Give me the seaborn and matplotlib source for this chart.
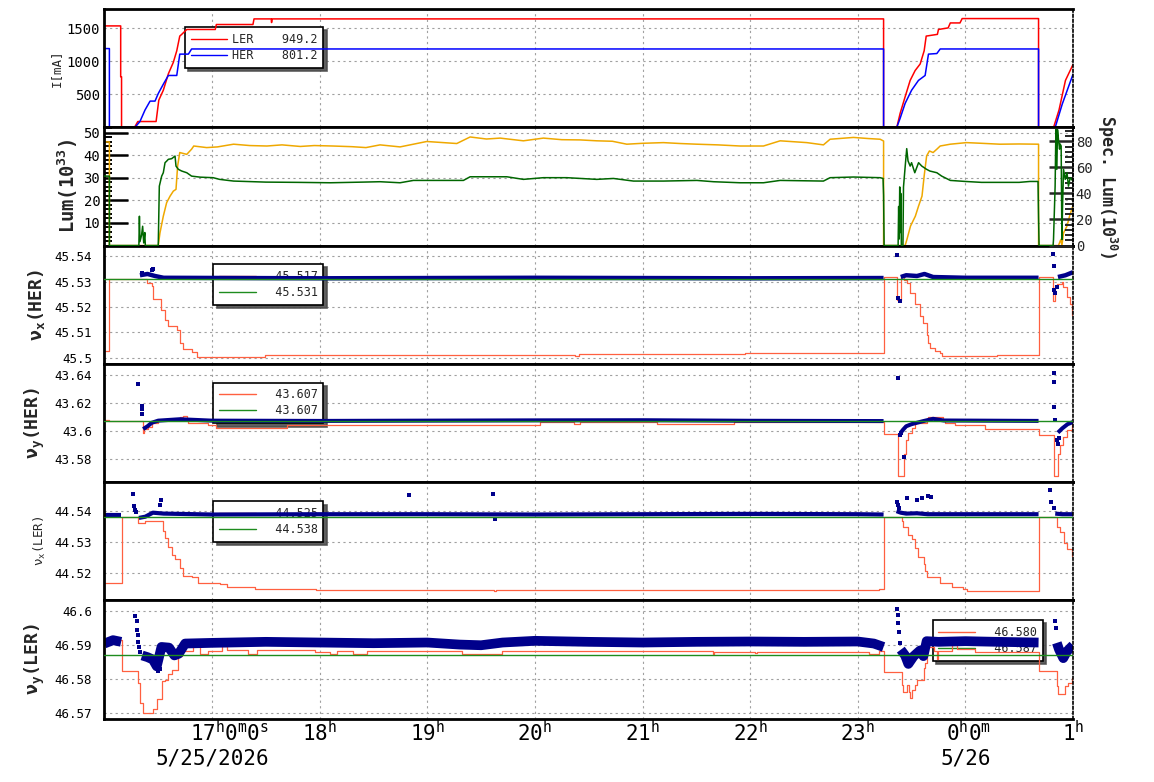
import matplotlib
matplotlib.use("Agg")
import matplotlib.pyplot as plt
from matplotlib.lines import Line2D
from matplotlib.ticker import MultipleLocator
import seaborn as sns

# time axis: hours on 5/25 (24 = 0h of 5/26)
hour_ticks = [17, 18, 19, 20, 21, 22, 23, 24, 25]
hour_labels = ["17$^{\\mathregular{h}}$0$^{\\mathregular{m}}$0$^{\\mathregular{s}}$\n5/25/2026",
               "18$^{\\mathregular{h}}$", "19$^{\\mathregular{h}}$", "20$^{\\mathregular{h}}$",
               "21$^{\\mathregular{h}}$", "22$^{\\mathregular{h}}$", "23$^{\\mathregular{h}}$",
               "0$^{\\mathregular{h}}$0$^{\\mathregular{m}}$\n5/26", "1$^{\\mathregular{h}}$"]

# ---- beam currents [mA]
ler_t = [16.0, 16.151, 16.151, 16.159, 16.159, 16.28, 16.31, 16.48, 16.505, 16.547, 16.594, 16.64,
         16.672, 16.70, 16.718, 16.765, 17.03, 17.04, 17.38, 17.39, 17.55, 17.553, 17.558, 23.24,
         23.24, 23.363, 23.394, 23.44, 23.487, 23.533, 23.58, 23.617, 23.636, 23.74, 23.75, 23.84,
         23.86, 23.95, 23.97, 24.68, 24.68, 24.82, 24.87, 24.93, 25.0]
ler_i = [1534, 1534, 764, 764, 0, 0, 87, 87, 410, 560, 809, 982,
         1157, 1380, 1406, 1480, 1480, 1555, 1555, 1640, 1640, 1585, 1640, 1640,
         0, 0, 212, 460, 709, 858, 958, 1157, 1380, 1406, 1480, 1504,
         1579, 1579, 1645, 1645, 0, 0, 260, 709, 949.2]
her_t = [16.0, 16.046, 16.046, 16.284, 16.33, 16.377, 16.424, 16.47, 16.50, 16.55, 16.594, 16.672,
         16.70, 16.78, 16.81, 23.24, 23.24, 23.363, 23.394, 23.44, 23.50, 23.564, 23.626, 23.657,
         23.735, 23.766, 24.68, 24.68, 24.835, 24.90, 25.0]
her_i = [1191, 1191, 0, 0, 87, 261, 396, 396, 510, 660, 784, 784,
         1107, 1107, 1185, 1185, 0, 0, 137, 361, 560, 709, 784, 1107,
         1116, 1185, 1185, 0, 0, 350, 801.2]
cur_legend = ["LER    949.2", "HER    801.2"]

# ---- luminosity (10^33) and specific luminosity (10^30)
lum_t = [16.0, 16.046, 16.046, 16.50, 16.516, 16.547, 16.578, 16.61, 16.64, 16.665, 16.68, 16.70,
         16.765, 16.81, 16.83, 16.95, 17.05, 17.2, 17.35, 17.51, 17.65, 17.82, 17.95, 18.12, 18.3,
         18.43, 18.561, 18.747, 18.871, 18.995, 19.15, 19.274, 19.398, 19.55, 19.677, 19.893,
         20.079, 20.25, 20.42, 20.575, 20.72, 20.854, 21.0, 21.194, 21.35, 21.505, 21.7, 21.907,
         22.124, 22.279, 22.527, 22.681, 22.743, 22.96, 23.1, 23.208, 23.24, 23.24, 23.44, 23.457,
         23.49, 23.535, 23.565, 23.597, 23.617, 23.64, 23.666, 23.70, 23.735, 23.766, 23.86, 24.01,
         24.15, 24.32, 24.5, 24.68, 24.68, 24.865, 24.887, 24.897, 24.912, 24.944, 24.968, 25.0]
lum_v = [45.9, 45.9, 0, 0, 5.6, 13.0, 19.0, 21.9, 24.1, 24.9, 35.2, 41.2,
         40.4, 42.7, 44.1, 43.4, 43.7, 44.9, 44.3, 44.1, 44.6, 43.9, 44.3, 44.1, 43.8,
         43.4, 44.6, 43.7, 44.9, 46.1, 45.6, 45.2, 48.1, 47.2, 47.6, 46.4,
         47.6, 46.9, 46.8, 46.4, 46.2, 44.9, 45.3, 45.6, 45.2, 44.9, 44.6, 44.1,
         44.1, 46.4, 45.6, 44.6, 47.1, 47.9, 47.4, 47.1, 46.3, 0, 0, 2.7,
         8.6, 13.0, 17.5, 21.9, 30.8, 39.7, 41.9, 41.2, 42.7, 44.1, 44.9, 45.6,
         45.3, 44.9, 45.0, 44.9, 0, 0, 2.7, 0, 5.6, 8.6, 13.0, 17.8]
slum_t = [16.0, 16.046, 16.046, 16.32, 16.325, 16.33, 16.345, 16.355, 16.365, 16.375, 16.38, 16.50,
          16.51, 16.532, 16.547, 16.563, 16.578, 16.594, 16.625, 16.656, 16.665, 16.687, 16.718,
          16.765, 16.81, 16.89, 17.01, 17.07, 17.2, 17.5, 17.8, 18.1, 18.4, 18.561, 18.747, 18.871,
          19.336, 19.398, 19.739, 19.893, 20.079, 20.297, 20.575, 20.73, 20.916, 21.194, 21.505,
          21.659, 21.907, 22.124, 22.279, 22.681, 22.743, 22.96, 23.208, 23.235, 23.24, 23.245,
          23.375, 23.38, 23.385, 23.39, 23.395, 23.40, 23.405, 23.42, 23.425, 23.44, 23.455, 23.467,
          23.487, 23.50, 23.53, 23.565, 23.595, 23.64, 23.67, 23.735, 23.78, 23.86, 24.0, 24.15,
          24.3, 24.5, 24.6, 24.675, 24.68, 24.685, 24.815, 24.819, 24.834, 24.841, 24.85, 24.856,
          24.865, 24.875, 24.88, 24.89, 24.897, 24.903, 24.912, 24.928, 24.944, 24.958, 24.974, 25.0]
slum_v = [53.3, 53.3, 0, 0, 22.5, 3.0, 8.0, 14.8, 2.0, 10.0, 0, 0,
          45.6, 53.3, 55.9, 63.6, 64.8, 66.2, 66.7, 68.7, 61.0, 58.5, 57.2,
          55.9, 53.3, 52.5, 52.1, 50.8, 49.5, 48.7, 48.5, 48.2, 48.7, 49.0, 48.2, 50.0,
          50.0, 52.8, 52.8, 50.8, 52.1, 52.1, 50.8, 51.5, 49.5, 49.5, 50.0,
          49.0, 48.2, 48.2, 50.0, 49.5, 52.1, 52.6, 52.1, 51.5, 38.7, 0,
          0, 30.0, 5.0, 45.0, 10.0, 40.0, 0, 0, 45.0, 60.0, 74.4, 65.0,
          61.0, 63.6, 55.9, 63.6, 61.0, 58.5, 57.2, 55.9, 53.3, 50.0, 49.2, 48.5,
          48.5, 48.5, 49.2, 49.2, 21.5, 0, 0, 4.6, 45.6, 89.0, 58.5, 89.0,
          81.5, 74.0, 78.0, 76.4, 4.6, 30.0, 58.5, 50.8, 56.0, 45.6, 52.1, 49.5]

# ---- nu_x (HER)
nxh_t = [16.0, 16.046, 16.40, 16.44, 16.455, 16.53, 16.563, 16.594, 16.672, 16.70, 16.733, 16.81,
         16.858, 17.49, 20.37, 20.41, 21.95, 23.24, 23.363, 23.40, 23.43, 23.455, 23.487, 23.533,
         23.58, 23.61, 23.64, 23.657, 23.67, 23.72, 23.766, 23.78, 24.06, 24.29, 24.68, 24.81,
         24.835, 24.85, 24.897, 24.91, 24.944, 24.974, 24.99, 25.0]
nxh_v = [45.5025, 45.5312, 45.5295, 45.5281, 45.5232, 45.5190, 45.5150, 45.5124, 45.5110, 45.5058,
         45.5034, 45.5021, 45.5003, 45.5012, 45.5008, 45.5015, 45.5019, 45.5320, 45.5229, 45.5320,
         45.5305, 45.5295, 45.5255, 45.5210, 45.5163, 45.5137, 45.5090, 45.5058, 45.5038, 45.5025,
         45.5018, 45.5005, 45.5008, 45.5010, 45.5320, 45.5222, 45.5281, 45.5290, 45.5300, 45.5280,
         45.5240, 45.5210, 45.5170, 45.5170]
nxh_bt = [16.33, 16.40, 16.47, 16.55, 18.0, 20.0, 22.0, 23.24,
          23.40, 23.45, 23.55, 23.62, 23.70, 24.0, 24.68, 24.86, 24.93, 25.0]
nxh_bv = [45.5325, 45.5330, 45.5322, 45.5315, 45.5313, 45.5315, 45.5313, 45.5314,
          45.5318, 45.5325, 45.5322, 45.5330, 45.5318, 45.5315, 45.5315, 45.5318, 45.5325, 45.5337]
nxh_bs = [0, 0, 0, 0, 0, 0, 0, 0, 1, 1, 1, 1, 1, 1, 1, 2, 2, 2]
nxh_ot = [16.35, 16.44, 16.45, 23.363, 23.378, 23.394, 24.81, 24.82, 24.82, 24.835, 24.85]
nxh_ov = [45.5335, 45.5345, 45.5350, 45.5403, 45.5236, 45.5222, 45.5410, 45.5363, 45.5268, 45.5255, 45.5280]
nxh_set = 45.531
nxh_legend = ["  45.517", "  45.531"]

# ---- nu_y (HER)
nyh_t = [16.0, 16.046, 16.356, 16.368, 16.408, 16.44, 16.50, 16.67, 16.70, 16.733, 16.765, 16.78,
         16.966, 17.04, 17.70, 20.05, 20.36, 20.42, 21.13, 21.85, 23.24, 23.378, 23.43, 23.448,
         23.47, 23.50, 23.533, 23.64, 23.657, 23.796, 23.81, 23.905, 24.184, 24.68, 24.82, 24.865,
         24.88, 24.91, 24.944, 24.99, 25.0]
nyh_v = [43.6078, 43.6073, 43.5984, 43.6019, 43.6030, 43.6059, 43.6078, 43.6083, 43.6102, 43.6110,
         43.6078, 43.6055, 43.6047, 43.6026, 43.6047, 43.6062, 43.6048, 43.6062, 43.6048, 43.6062,
         43.5979, 43.5680, 43.5841, 43.5936, 43.5984, 43.6026, 43.6055, 43.6078, 43.6102, 43.6078,
         43.6055, 43.6043, 43.6019, 43.5972, 43.5680, 43.5841, 43.5900, 43.5962, 43.6007, 43.6059,
         43.6059]
nyh_bt = [16.36, 16.40, 16.44, 16.50, 16.70, 17.0, 18.0, 19.0, 20.0, 21.0, 22.0, 23.24,
          23.40, 23.42, 23.45, 23.50, 23.60, 23.70, 23.80, 24.68, 24.86, 24.90, 24.95, 25.0]
nyh_bv = [43.6015, 43.6035, 43.6060, 43.6075, 43.6085, 43.6075, 43.6073, 43.6075, 43.6077, 43.6078,
          43.6074, 43.6072, 43.5990, 43.6010, 43.6035, 43.6050, 43.6070, 43.6088, 43.6076, 43.6073,
          43.5990, 43.6020, 43.6050, 43.6065]
nyh_bs = [0] * 12 + [1] * 8 + [2] * 4
nyh_ot = [16.315, 16.345, 16.345, 16.345, 23.373, 23.39, 23.40, 23.43, 24.819, 24.819, 24.825,
          24.835, 24.85, 24.86, 24.87]
nyh_ov = [43.6335, 43.6180, 43.6155, 43.6125, 43.6380, 43.5970, 43.5985, 43.5817, 43.6411, 43.6347,
          43.6169, 43.6078, 43.5940, 43.5912, 43.5950]
nyh_set = 43.607
nyh_legend = ["  43.607", "  43.607"]

# ---- nu_x (LER)
nxl_t = [16.0, 16.161, 16.315, 16.38, 16.547, 16.563, 16.594, 16.625, 16.656, 16.703, 16.733, 16.811,
         16.873, 17.074, 17.137, 17.40, 17.97, 19.32, 19.62, 19.64, 21.66, 23.10, 23.20, 23.245,
         23.41, 23.419, 23.471, 23.503, 23.533, 23.564, 23.611, 23.626, 23.648, 23.766, 23.874,
         23.982, 24.014, 24.68, 24.85, 24.881, 24.912, 24.944, 24.99, 25.0]
nxl_v = [44.5168, 44.5382, 44.5362, 44.5368, 44.5335, 44.5314, 44.5284, 44.5259, 44.5245, 44.5216,
         44.5189, 44.5187, 44.5168, 44.5165, 44.5155, 44.5148, 44.5144, 44.5143, 44.5140, 44.5143,
         44.5146, 44.5143, 44.5148, 44.5382, 44.5369, 44.5347, 44.5323, 44.5309, 44.5282, 44.5252,
         44.5228, 44.5206, 44.5187, 44.5168, 44.5154, 44.5147, 44.5142, 44.5382, 44.5347, 44.5331,
         44.5298, 44.5277, 44.5256, 44.5256]
nxl_bt = [16.0, 16.155, 16.32, 16.38, 16.45, 16.55, 17.0, 18.0, 19.0, 20.0, 21.0, 22.0, 23.0, 23.24,
          23.36, 23.40, 23.45, 23.55, 23.65, 23.75, 24.68, 24.835, 24.9, 25.0]
nxl_bv = [44.5388, 44.5388, 44.5378, 44.5382, 44.5395, 44.5392, 44.5389, 44.5390, 44.5390, 44.5389,
          44.5390, 44.5391, 44.5390, 44.5389, 44.5400, 44.5395, 44.5392, 44.5393, 44.5390, 44.5390,
          44.5390, 44.5392, 44.5390, 44.5390]
nxl_bs = [0] * 2 + [1] * 12 + [2] * 7 + [3] * 3
nxl_ot = [16.269, 16.272, 16.28, 16.29, 16.52, 16.53, 18.83, 19.615, 19.63, 23.363, 23.37, 23.38,
          23.462, 23.555, 23.601, 23.657, 23.679, 24.788, 24.794, 24.80, 24.825]
nxl_ov = [44.5454, 44.5416, 44.5405, 44.5396, 44.5419, 44.5436, 44.5451, 44.5454, 44.5375, 44.5428,
          44.5421, 44.5410, 44.5444, 44.5437, 44.5441, 44.5450, 44.5447, 44.5469, 44.5428, 44.5428,
          44.5410]
nxl_set = 44.538
nxl_legend = ["  44.525", "  44.538"]

# ---- nu_y (LER)
nyl_t = [16.0, 16.083, 16.161, 16.315, 16.331, 16.362, 16.455, 16.486, 16.532, 16.563, 16.594, 16.625,
         16.687, 16.718, 16.733, 16.749, 16.826, 16.888, 16.966, 17.09, 17.137, 17.337, 17.415,
         17.957, 18.097, 18.159, 18.313, 18.438, 19.32, 19.692, 21.653, 21.668, 22.046, 22.06,
         23.10, 23.20, 23.245, 23.41, 23.425, 23.462, 23.475, 23.487, 23.503, 23.533, 23.549,
         23.611, 23.626, 23.642, 23.657, 23.704, 23.735, 23.75, 23.874, 23.92, 24.09, 24.68,
         24.85, 24.865, 24.928, 24.958, 24.99, 25.0]
nyl_v = [46.5907, 46.5915, 46.5823, 46.5789, 46.5730, 46.5700, 46.5712, 46.5742, 46.5794, 46.5799,
         46.5814, 46.5828, 46.5868, 46.5887, 46.5907, 46.5882, 46.5897, 46.5873, 46.5882, 46.5897,
         46.5887, 46.5875, 46.5887, 46.5879, 46.5873, 46.5882, 46.5875, 46.5882, 46.5873, 46.5882,
         46.5873, 46.5880, 46.5876, 46.5880, 46.5873, 46.5882, 46.5822, 46.5784, 46.5761, 46.5784,
         46.5761, 46.5745, 46.5769, 46.5784, 46.5799, 46.5833, 46.5848, 46.5882, 46.5895, 46.5882,
         46.5860, 46.5882, 46.5902, 46.5888, 46.5879, 46.5823, 46.5779, 46.5757, 46.5779, 46.5790,
         46.5804, 46.5804]
nyl_bt = [16.0, 16.08, 16.155,
          16.35, 16.40, 16.45, 16.486, 16.53, 16.60, 16.65, 16.69, 16.75, 17.0, 17.5, 18.0, 18.5,
          19.0, 19.3, 19.5, 19.7, 20.0, 20.5, 21.0, 21.5, 22.0, 22.5, 23.0, 23.15, 23.24,
          23.40, 23.44, 23.47, 23.52, 23.58, 23.61, 23.64, 23.75, 24.0, 24.3, 24.68,
          24.85, 24.87, 24.91, 24.944, 25.0]
nyl_bv = [46.5905, 46.5915, 46.5910,
          46.5870, 46.5865, 46.5858, 46.5838, 46.5895, 46.5893, 46.5870, 46.5875, 46.5905, 46.5907,
          46.5910, 46.5908, 46.5906, 46.5908, 46.5902, 46.5900, 46.5908, 46.5913, 46.5910, 46.5908,
          46.5910, 46.5911, 46.5910, 46.5911, 46.5905, 46.5895,
          46.5887, 46.5870, 46.5845, 46.5868, 46.5885, 46.5868, 46.5912, 46.5910, 46.5912, 46.5910,
          46.5908,
          46.5907, 46.5888, 46.5862, 46.5882, 46.5900]
nyl_bs = [0] * 3 + [1] * 26 + [2] * 11 + [3] * 5
nyl_ot = [16.284, 16.30, 16.30, 16.31, 16.315, 16.32, 16.33, 16.47, 16.50, 16.52, 23.363, 23.37,
          23.375, 23.385, 23.39, 24.835, 24.84]
nyl_ov = [46.5986, 46.5972, 46.5946, 46.5930, 46.5910, 46.5895, 46.5880, 46.5848, 46.5823, 46.5830,
          46.6007, 46.5990, 46.5966, 46.5940, 46.5907, 46.5971, 46.5951]
nyl_set = 46.587
nyl_legend = ["  46.580", "  46.587"]

# ---- colours
c_ler, c_her = "#ff0000", "#0000ff"
c_lum, c_slum = "#efa800", "#006600"
c_meas, c_set, c_band = "#ff6040", "#1e8c1e", "#00008b"

sns.set_style("white")
plt.rcParams["font.family"] = ["DejaVu Sans Mono", "DejaVu Sans"]
plt.rcParams["axes.axisbelow"] = True

fig = plt.figure(figsize=(11.54, 7.82), dpi=100)
gs = fig.add_gridspec(6, 1, left=0.0905, right=0.9298, top=0.9885, bottom=0.081, hspace=0)
axes = [fig.add_subplot(gs[i]) for i in range(6)]


def style(ax, yticks, ylim, minor, labsize, pad):
    ax.set_xlim(16, 25)
    ax.set_ylim(*ylim)
    ax.set_xticks(hour_ticks)
    ax.xaxis.set_minor_locator(MultipleLocator(1 / 3))
    ax.set_yticks(yticks, [f"{v:g}" for v in yticks])
    ax.yaxis.set_minor_locator(MultipleLocator(minor))
    ax.grid(True, which="major", color="#a0a0a0", linestyle=(0, (2, 3)), lw=0.8)
    ax.tick_params(axis="both", which="both", direction="in", top=False, right=False,
                   labelbottom=False, colors="black")
    ax.tick_params(axis="x", which="major", length=8, width=1.6)
    ax.tick_params(axis="x", which="minor", length=4.5, width=1.2)
    ax.tick_params(axis="y", which="major", length=17, width=1.8, labelsize=labsize, pad=pad)
    ax.tick_params(axis="y", which="minor", length=6, width=1.4)
    for s in ["left", "bottom", "top"]:
        ax.spines[s].set_linewidth(2)
        ax.spines[s].set_color("black")
    ax.spines["right"].set_linestyle((0, (1.5, 1.5)))
    ax.spines["right"].set_linewidth(1.2)
    ax.spines["right"].set_color("black")
    ax.set_xlabel("")


def add_legend(ax, colors, labels, anchor):
    handles = [Line2D([], [], color=c, lw=1.0) for c in colors]
    leg = ax.legend(handles, labels, loc="upper left", bbox_to_anchor=anchor, borderaxespad=0,
                    fancybox=False, framealpha=1, edgecolor="black",
                    shadow={"ox": 2.5, "oy": -2.5, "color": "0.3", "alpha": 0.9},
                    prop={"size": 8.5}, handlelength=3.1, handletextpad=0.4,
                    labelspacing=0.25, borderpad=0.5)
    leg.get_frame().set_linewidth(1.2)
    leg.set_zorder(1.5)


def ylab(ax, text, x, size, bold):
    ax.set_ylabel(text, fontsize=size, fontweight="bold" if bold else "normal")
    ax.yaxis.set_label_coords(x, 0.5)


# panel 1: currents
ax = axes[0]
sns.lineplot(x=ler_t, y=ler_i, ax=ax, color=c_ler, lw=1.1, sort=False, estimator=None)
sns.lineplot(x=her_t, y=her_i, ax=ax, color=c_her, lw=1.1, sort=False, estimator=None)
style(ax, [500, 1000, 1500], (0, 1790), 100, 10, 3)
add_legend(ax, [c_ler, c_her], cur_legend, (0.083, 0.848))
ylab(ax, "I[mA]", -0.0427, 9, False)

# panel 2: luminosity + specific luminosity
ax = axes[1]
sns.lineplot(x=lum_t, y=lum_v, ax=ax, color=c_lum, lw=1.1, sort=False, estimator=None)
style(ax, [10, 20, 30, 40, 50], (0, 52.4), 2, 10, 3)
ylab(ax, "Lum(10$^{\\mathregular{33}}$)", -0.0251, 13.5, True)
axr = ax.twinx()
sns.lineplot(x=slum_t, y=slum_v, ax=axr, color=c_slum, lw=1.1, sort=False, estimator=None)
axr.set_ylim(0, 90.8)
axr.set_yticks([0, 20, 40, 60, 80], ["0", "20", "40", "60", "80"])
axr.yaxis.set_minor_locator(MultipleLocator(4))
axr.grid(False)
axr.tick_params(axis="y", which="major", direction="in", length=17, width=1.8, labelsize=10, pad=2,
                right=True, left=False)
axr.tick_params(axis="y", which="minor", direction="in", length=6, width=1.4, right=True, left=False)
for s in ["left", "top", "bottom"]:
    axr.spines[s].set_visible(False)
axr.spines["right"].set_linestyle((0, (1.5, 1.5)))
axr.spines["right"].set_linewidth(1.2)
axr.spines["right"].set_color("black")
axr.set_ylabel("Spec. Lum(10$^{\\mathregular{30}}$)", fontsize=12, fontweight="bold",
               rotation=270, va="bottom")
axr.yaxis.set_label_coords(1.0223, 0.5)
axr.set_xlim(16, 25)

# tune panels
tunes = [
    (nxh_t, nxh_v, nxh_bt, nxh_bv, nxh_bs, nxh_ot, nxh_ov, nxh_set, nxh_legend, 3.2,
     [45.5, 45.51, 45.52, 45.53, 45.54], (45.4976, 45.5442), 0.002,
     "ν$_{\\mathregular{x}}$(HER)", 13, True, (0.1124, 0.845)),
    (nyh_t, nyh_v, nyh_bt, nyh_bv, nyh_bs, nyh_ot, nyh_ov, nyh_set, nyh_legend, 2.9,
     [43.58, 43.6, 43.62, 43.64], (43.5639, 43.6478), 0.004,
     "ν$_{\\mathregular{y}}$(HER)", 13, True, (0.1124, 0.842)),
    (nxl_t, nxl_v, nxl_bt, nxl_bv, nxl_bs, nxl_ot, nxl_ov, nxl_set, nxl_legend, 3.0,
     [44.52, 44.53, 44.54], (44.5111, 44.5494), 0.002,
     "ν$_{\\mathregular{x}}$(LER)", 9, False, (0.1124, 0.839)),
    (nyl_t, nyl_v, nyl_bt, nyl_bv, nyl_bs, nyl_ot, nyl_ov, nyl_set, nyl_legend, 7.0,
     [46.57, 46.58, 46.59, 46.6], (46.5684, 46.6032), 0.002,
     "ν$_{\\mathregular{y}}$(LER)", 13, True, (0.855, 0.836)),
]
for ax, (t, v, bt, bv, bs, ot, ov, sp, lg, blw, yt, yl, mn, lab, lsz, bold, anc) in zip(axes[2:], tunes):
    sns.lineplot(x=t, y=v, ax=ax, color=c_meas, lw=0.9, sort=False, estimator=None,
                 drawstyle="steps-post", zorder=2)
    sns.lineplot(x=bt, y=bv, units=bs, ax=ax, color=c_band, lw=blw, sort=False, estimator=None,
                 zorder=2.5, solid_capstyle="butt")
    sns.scatterplot(x=ot, y=ov, ax=ax, color=c_band, marker="s", s=11, linewidth=0, zorder=2.6)
    sns.lineplot(x=[16.0, 25.0], y=[sp, sp], ax=ax, color=c_set, lw=1.0, sort=False,
                 estimator=None, zorder=3)
    style(ax, yt, yl, mn, 9, 9)
    add_legend(ax, [c_meas, c_set], lg, anc)
    ylab(ax, lab, -0.059 if bold else -0.0582, lsz, bold)

# bottom time labels
axb = axes[5]
axb.set_xticks(hour_ticks, hour_labels, multialignment="right")
axb.tick_params(axis="x", which="major", labelbottom=True, labelsize=15, pad=1)

fig.savefig("out.png", dpi=100, facecolor="white")
